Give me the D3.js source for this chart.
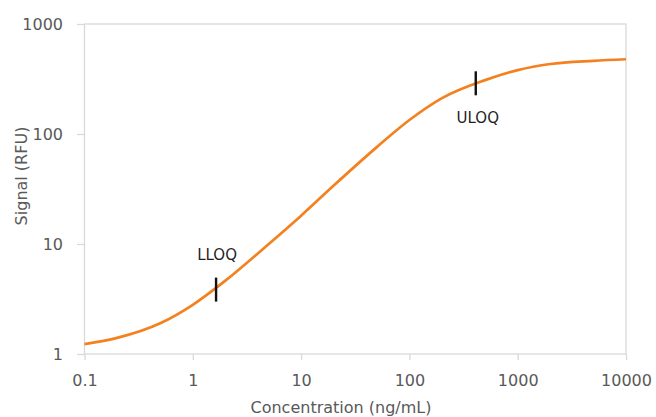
<!DOCTYPE html>
<html>
<head>
  <script src="https://d3js.org/d3.v7.min.js"></script>
  <style>
    body { margin: 0; background: #fff; }
    text { font-family: "DejaVu Sans", sans-serif; }
  </style>
</head>
<body>
  <script>
    // Values
    const concentration = [0.1, 0.2, 0.5, 1, 2, 5, 10, 20, 50, 100, 200, 500, 1000, 2000, 5000, 10000];
    const signal = [1.23, 1.4, 1.9, 2.8, 4.64, 9.95, 18.1, 34, 76, 134, 212, 309, 381, 433, 463, 478];
    const xTicks = [0.1, 1, 10, 100, 1000, 10000];
    const yTicks = [1, 10, 100, 1000];
    const markerNames = ["LLOQ", "ULOQ"];
    const markerX = [1.64, 410];
    const markerY = [3.85, 289];

    const margin = {top: 24, right: 30, bottom: 63, left: 84.5},
          width = 656 - margin.left - margin.right,
          height = 417 - margin.top - margin.bottom;

    const svg = d3.select("body")
      .append("svg")
        .attr("width", 656)
        .attr("height", 417)
      .append("g")
        .attr("transform", `translate(${margin.left},${margin.top})`);

    const x = d3.scaleLog().domain([0.1, 10000]).range([0, width]);
    const y = d3.scaleLog().domain([1, 1000]).range([height, 0]);

    // plot frame
    svg.append("rect")
      .attr("width", width)
      .attr("height", height)
      .attr("fill", "none")
      .attr("stroke", "#d9d9d9")
      .attr("stroke-width", 1.3);

    // Axes
    const xAxis = svg.append("g")
      .attr("transform", `translate(0,${height})`)
      .call(d3.axisBottom(x).tickValues(xTicks).tickSize(6).tickPadding(14.5)
        .tickFormat(d => String(d)));
    const yAxis = svg.append("g")
      .call(d3.axisLeft(y).tickValues(yTicks).tickSize(7.5).tickPadding(14)
        .tickFormat(d => String(d)));

    [xAxis, yAxis].forEach(a => {
      a.select(".domain").remove();
      a.selectAll(".tick line").attr("stroke", "#d9d9d9").attr("stroke-width", 1.3);
      a.selectAll(".tick text")
        .attr("fill", "#595959")
        .style("font-size", "16px")
        .style("font-family", "DejaVu Sans, sans-serif");
    });

    // Curve
    const pts = concentration.map((c, i) => [c, signal[i]]);
    svg.append("path")
      .datum(pts)
      .attr("fill", "none")
      .attr("stroke", "#f4811f")
      .attr("stroke-width", 2.7)
      .attr("d", d3.line()
        .x(d => x(d[0]))
        .y(d => y(d[1]))
        .curve(d3.curveMonotoneX));

    // LLOQ / ULOQ markers
    markerNames.forEach((name, i) => {
      const cx = x(markerX[i]), cy = y(markerY[i]);
      svg.append("line")
        .attr("x1", cx).attr("x2", cx)
        .attr("y1", cy - 12).attr("y2", cy + 12)
        .attr("stroke", "#111")
        .attr("stroke-width", 2.4);
      svg.append("text")
        .attr("x", cx + (i === 0 ? 1 : 2))
        .attr("y", i === 0 ? cy - 30 : cy + 40)
        .attr("text-anchor", "middle")
        .attr("fill", "#1f1f1f")
        .style("font-size", "15px")
        .text(name);
    });

    // Axis titles
    svg.append("text")
      .attr("x", 341 - margin.left)
      .attr("y", 413 - margin.top)
      .attr("text-anchor", "middle")
      .attr("fill", "#595959")
      .style("font-size", "16px")
      .text("Concentration (ng/mL)");

    svg.append("text")
      .attr("transform", `translate(${27 - margin.left},${176 - margin.top}) rotate(-90)`)
      .attr("text-anchor", "middle")
      .attr("fill", "#595959")
      .style("font-size", "16px")
      .text("Signal (RFU)");
  </script>
</body>
</html>
